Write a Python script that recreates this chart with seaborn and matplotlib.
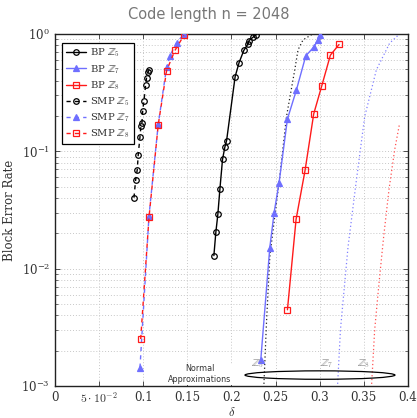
import numpy as np
import pandas as pd
import matplotlib
matplotlib.use("Agg")
import matplotlib.pyplot as plt
from matplotlib.patches import Ellipse
from matplotlib.ticker import FixedLocator, FixedFormatter, LogLocator, NullFormatter
import seaborn as sns

# ---------------- data ----------------
bp5_d = [0.1801, 0.1823, 0.1846, 0.1869, 0.1899, 0.1925, 0.1945, 0.2042, 0.2087, 0.2140, 0.2189, 0.2200, 0.2246, 0.2284]
bp5_b = [0.0129, 0.0203, 0.0290, 0.0474, 0.0852, 0.108, 0.123, 0.432, 0.569, 0.721, 0.822, 0.877, 0.937, 0.986]

bp7_d = [0.2333, 0.2435, 0.2484, 0.2540, 0.2635, 0.2737, 0.2843, 0.2933, 0.2982, 0.3001]
bp7_b = [0.00168, 0.0151, 0.0300, 0.0539, 0.188, 0.333, 0.649, 0.770, 0.889, 0.98]

bp8_d = [0.2635, 0.2733, 0.2835, 0.2933, 0.3024, 0.3122, 0.3220]
bp8_b = [0.00446, 0.0263, 0.0688, 0.208, 0.360, 0.658, 0.811]

smp5_d = [0.0895, 0.0914, 0.0932, 0.0943, 0.0963, 0.0974, 0.0985, 0.0993, 0.1008, 0.1027, 0.1038, 0.1057, 0.1068]
smp5_b = [0.0402, 0.0571, 0.0694, 0.093, 0.133, 0.164, 0.173, 0.221, 0.268, 0.367, 0.424, 0.477, 0.493]

smp7_d = [0.0963, 0.1065, 0.1170, 0.1265, 0.1302, 0.1378, 0.1461]
smp7_b = [0.00143, 0.028, 0.170, 0.520, 0.649, 0.843, 0.99]

smp8_d = [0.0971, 0.1066, 0.1170, 0.1265, 0.1359, 0.1461]
smp8_b = [0.00251, 0.0277, 0.168, 0.486, 0.721, 0.97]

na5_d = [0.2365, 0.2397, 0.2435, 0.2491, 0.2548, 0.2624, 0.2718, 0.2755, 0.2812, 0.2907, 0.3001]
na5_b = [0.0009, 0.00342, 0.0126, 0.0277, 0.0607, 0.197, 0.493, 0.730, 0.889, 0.981, 1.0]

na7_d = [0.3200, 0.3236, 0.3322, 0.3417, 0.3511, 0.3643, 0.3794, 0.3907]
na7_b = [0.0009, 0.00301, 0.0153, 0.0568, 0.197, 0.493, 0.833, 1.0]

na8_d = [0.3585, 0.3624, 0.3673, 0.3726, 0.3786, 0.3851, 0.3907]
na8_b = [0.0009, 0.003, 0.00749, 0.0187, 0.0469, 0.103, 0.173]

xticks = [0, 0.05, 0.1, 0.15, 0.2, 0.25, 0.3, 0.35, 0.4]
xticklabels = ["0", r"$5\cdot10^{-2}$", "0.1", "0.15", "0.2", "0.25", "0.3", "0.35", "0.4"]

# ---------------- style ----------------
sns.set_theme(style="ticks")
plt.rcParams["font.family"] = ["DejaVu Serif"]
plt.rcParams["mathtext.fontset"] = "cm"
plt.rcParams["font.serif"] = ["DejaVu Serif"]

BLACK = "#000000"
BLUE = "#6f6fff"
RED = "#ff1a1a"

fig = plt.figure(figsize=(4.17, 4.18), dpi=100)
ax = fig.add_axes([0.132, 0.0766, 0.846, 0.8425])

def draw(d, b, color, ls, marker, label, mfc="none", ms=4.0, lw=1.0, dashes=None):
    df = pd.DataFrame({"d": d, "b": b})
    kw = dict(data=df, x="d", y="b", ax=ax, color=color, sort=False, estimator=None,
              marker=marker, markersize=ms, markerfacecolor=mfc, markeredgecolor=color,
              markeredgewidth=0.9, linewidth=lw, label=label, zorder=3)
    line = sns.lineplot(**kw).get_lines()[-1]
    if dashes is not None:
        line.set_dashes(dashes)
    elif ls is not None:
        line.set_linestyle(ls)
    return line

draw(bp5_d, bp5_b, BLACK, "-", "o", r"BP $\mathbb{Z}_5$")
draw(bp7_d, bp7_b, BLUE, "-", "^", r"BP $\mathbb{Z}_7$", mfc=BLUE)
draw(bp8_d, bp8_b, RED, "-", "s", r"BP $\mathbb{Z}_8$")
draw(smp5_d, smp5_b, BLACK, None, "o", r"SMP $\mathbb{Z}_5$", dashes=(3, 3))
draw(smp7_d, smp7_b, BLUE, None, "^", r"SMP $\mathbb{Z}_7$", mfc=BLUE, dashes=(3, 3))
draw(smp8_d, smp8_b, RED, None, "s", r"SMP $\mathbb{Z}_8$", dashes=(3, 3))

for d, b, c in [(na5_d, na5_b, "#222222"), (na7_d, na7_b, "#8080ff"), (na8_d, na8_b, "#ff5050")]:
    df = pd.DataFrame({"d": d, "b": b})
    ln = sns.lineplot(data=df, x="d", y="b", ax=ax, color=c, sort=False, estimator=None,
                      linewidth=0.9, legend=False, zorder=2).get_lines()[-1]
    ln.set_dashes((1, 2))

ax.set_yscale("log")
ax.set_xlim(0, 0.4)
ax.set_ylim(1e-3, 1)

ax.xaxis.set_major_locator(FixedLocator(xticks))
ax.xaxis.set_major_formatter(FixedFormatter(xticklabels))
ax.yaxis.set_major_locator(LogLocator(base=10, numticks=10))
ax.yaxis.set_minor_locator(LogLocator(base=10, subs=np.arange(2, 10), numticks=20))
ax.yaxis.set_minor_formatter(NullFormatter())

ax.tick_params(axis="both", which="both", direction="in", top=True, right=True,
               labelsize=8.5, colors="#333333", labelcolor="#333333")
ax.tick_params(axis="both", which="major", length=3.5, width=0.6)
ax.tick_params(axis="y", which="minor", length=2, width=0.5)
for lab in ax.get_xticklabels() + ax.get_yticklabels():
    lab.set_fontfamily("DejaVu Serif")

ax.grid(True, which="major", axis="both", color="#c8c8c8", linestyle=(0, (1, 2)), linewidth=0.7)
ax.grid(True, which="minor", axis="y", color="#c8c8c8", linestyle=(0, (1, 2)), linewidth=0.7)
for s in ax.spines.values():
    s.set_linewidth(1.0)
    s.set_color("#222222")

ax.set_xlabel(r"$\delta$", fontsize=9, color="#333333", labelpad=0)
ax.set_ylabel("Block Error Rate", fontsize=8.5, color="#333333", labelpad=4)
fig.text(0.5, 0.965, "Code length n = 2048", ha="center", va="center",
         fontsize=10.5, color="#777777", family="DejaVu Sans")

leg = ax.legend(loc="upper left", bbox_to_anchor=(0.02, 0.975), fontsize=7.2, frameon=True,
                fancybox=False, edgecolor="#000000", framealpha=1, handlelength=2.0,
                borderpad=0.4, labelspacing=0.35, handletextpad=0.4, borderaxespad=0.0)
leg.get_frame().set_linewidth(0.9)
for t in leg.get_texts():
    t.set_color("#333333")

ell = Ellipse((0.751, 0.031), 0.425, 0.024, transform=ax.transAxes, fill=False,
              edgecolor="#000000", linewidth=0.9, zorder=4)
ax.add_patch(ell)
ax.text(0.575, 0.063, r"$\mathbb{Z}_5$", transform=ax.transAxes, fontsize=7.5, color="#888888", ha="center", va="center")
ax.text(0.77, 0.063, r"$\mathbb{Z}_7$", transform=ax.transAxes, fontsize=7.5, color="#888888", ha="center", va="center")
ax.text(0.875, 0.063, r"$\mathbb{Z}_8$", transform=ax.transAxes, fontsize=7.5, color="#888888", ha="center", va="center")
ax.text(0.41, 0.033, "Normal\nApproximations", transform=ax.transAxes, fontsize=5.8, color="#333333",
        ha="center", va="center", family="DejaVu Sans", linespacing=1.3,
        bbox=dict(facecolor="white", edgecolor="none", pad=0.5))

fig.savefig("out.png", dpi=100)
